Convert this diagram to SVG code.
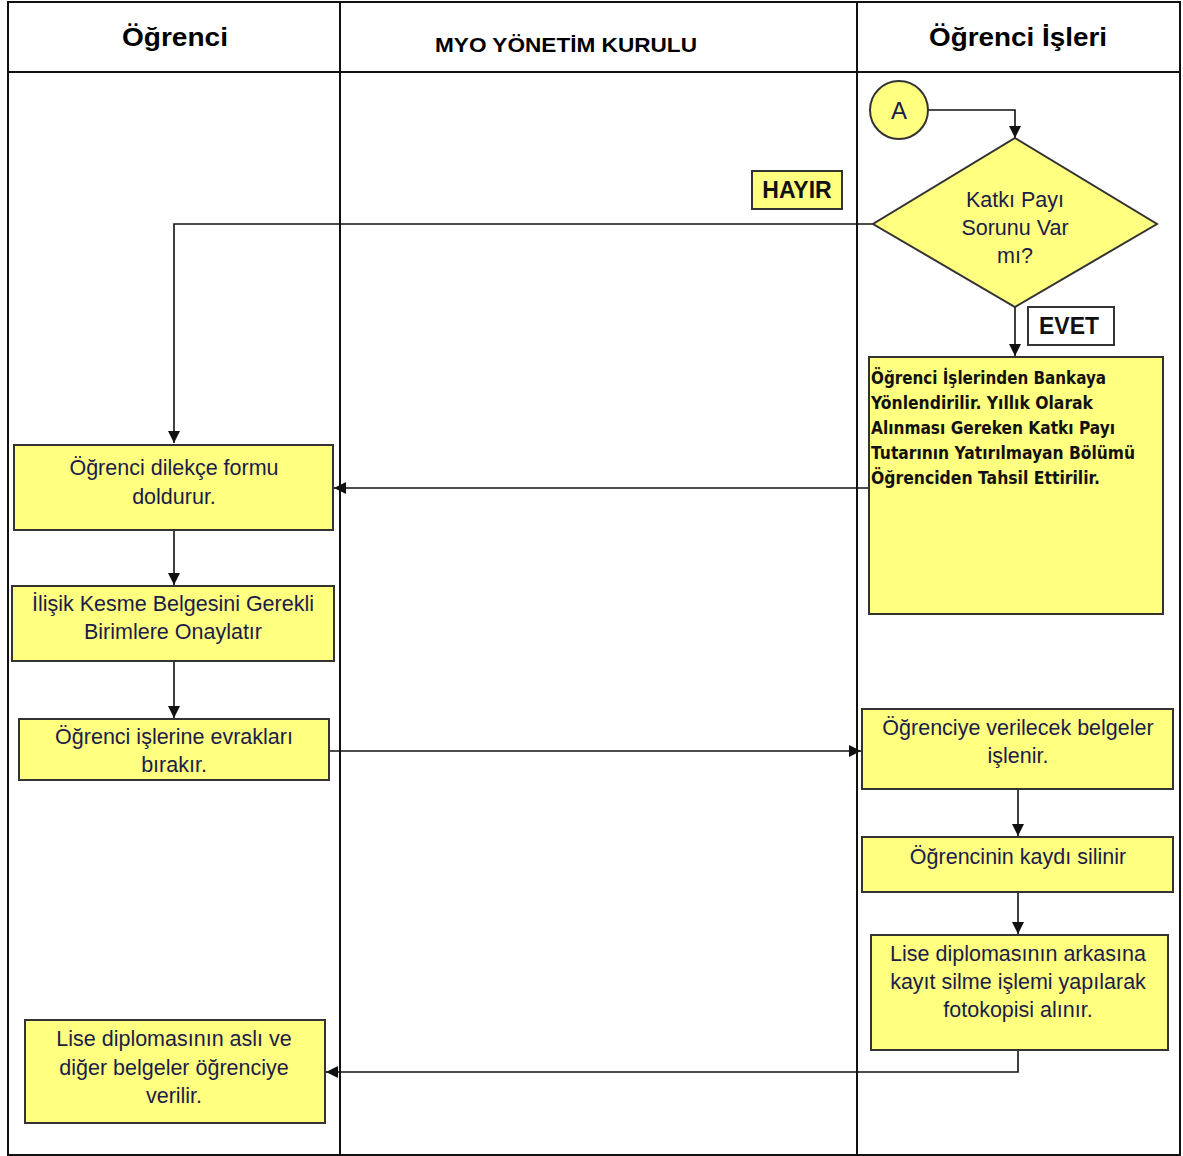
<svg xmlns="http://www.w3.org/2000/svg" width="1183" height="1156" viewBox="0 0 1183 1156">
<style>
.lane{fill:none;stroke:#111;stroke-width:2}
.box{fill:#FFFF80;stroke:#333;stroke-width:2}
.t{font-family:"Liberation Sans",Arial,sans-serif;font-size:21.5px;fill:#1c1c48;text-anchor:middle}
.h{font-family:"Liberation Sans",Arial,sans-serif;font-weight:bold;fill:#000;text-anchor:middle}
.lbl{font-family:"Liberation Sans",Arial,sans-serif;font-weight:bold;font-size:23px;fill:#111;text-anchor:middle}
.bt{font-family:"DejaVu Sans","Liberation Sans",sans-serif;font-weight:bold;font-size:17px;fill:#111}
.c{fill:none;stroke:#111;stroke-width:1.6}
</style>
<defs>
<marker id="ar" viewBox="0 0 10 10" refX="10" refY="5" markerWidth="12" markerHeight="12" markerUnits="userSpaceOnUse" orient="auto"><path d="M0,0 L10,5 L0,10 z" fill="#111"/></marker>
</defs>
<rect width="1183" height="1156" fill="#fff"/>
<g id="lanes">
<rect class="lane" x="8" y="2" width="1172" height="1153"/>
<line class="lane" x1="8" y1="72" x2="1180" y2="72" stroke-width="3"/>
<line class="lane" x1="340" y1="2" x2="340" y2="1155"/>
<line class="lane" x1="857" y1="2" x2="857" y2="1155"/>
<text class="h" x="175" y="46" font-size="26" textLength="106" lengthAdjust="spacingAndGlyphs">Öğrenci</text>
<text class="h" x="566" y="52" font-size="20" textLength="262" lengthAdjust="spacingAndGlyphs">MYO YÖNETİM KURULU</text>
<text class="h" x="1018" y="46" font-size="26" textLength="178" lengthAdjust="spacingAndGlyphs">Öğrenci İşleri</text>
</g>
<g id="connectors">
<polyline class="c" points="928,110 1015,110 1015,138" marker-end="url(#ar)"/>
<polyline class="c" points="873,224 174,224 174,443" marker-end="url(#ar)"/>
<line class="c" x1="1015" y1="307" x2="1015" y2="356" marker-end="url(#ar)"/>
<line class="c" x1="869" y1="488" x2="334" y2="488" marker-end="url(#ar)"/>
<line class="c" x1="174" y1="530" x2="174" y2="585" marker-end="url(#ar)"/>
<line class="c" x1="174" y1="661" x2="174" y2="718" marker-end="url(#ar)"/>
<line class="c" x1="329" y1="751" x2="861" y2="751" marker-end="url(#ar)"/>
<line class="c" x1="1018" y1="789" x2="1018" y2="836" marker-end="url(#ar)"/>
<line class="c" x1="1018" y1="892" x2="1018" y2="934" marker-end="url(#ar)"/>
<polyline class="c" points="1018,1050 1018,1072 326,1072" marker-end="url(#ar)"/>
</g>
<g id="start-A">
<circle cx="899" cy="110" r="29" fill="#FFFF80" stroke="#333" stroke-width="2"/>
<text x="899" y="119" font-family="Liberation Sans,Arial,sans-serif" font-size="24" fill="#1c1c48" text-anchor="middle">A</text>
</g>
<g id="decision">
<polygon class="box" points="1015,138 1157,224 1015,307 873,224"/>
<text class="t" x="1015" y="207">Katkı Payı</text>
<text class="t" x="1015" y="235">Sorunu Var</text>
<text class="t" x="1015" y="263">mı?</text>
</g>
<g id="label-hayir">
<rect x="752" y="171" width="90" height="38" fill="#FFFF80" stroke="#333" stroke-width="2"/>
<text class="lbl" x="797" y="198">HAYIR</text>
</g>
<g id="label-evet">
<rect x="1028" y="307" width="86" height="38" fill="#fff" stroke="#333" stroke-width="2"/>
<text class="lbl" x="1069" y="334">EVET</text>
</g>
<g id="bank">
<rect class="box" x="869" y="357" width="294" height="257"/>
<text class="bt" x="871" y="384" textLength="235" lengthAdjust="spacingAndGlyphs">Öğrenci İşlerinden Bankaya</text>
<text class="bt" x="871" y="409" textLength="222" lengthAdjust="spacingAndGlyphs">Yönlendirilir. Yıllık Olarak</text>
<text class="bt" x="871" y="434" textLength="244" lengthAdjust="spacingAndGlyphs">Alınması Gereken Katkı Payı</text>
<text class="bt" x="871" y="459" textLength="264" lengthAdjust="spacingAndGlyphs">Tutarının Yatırılmayan Bölümü</text>
<text class="bt" x="871" y="484" textLength="229" lengthAdjust="spacingAndGlyphs">Öğrenciden Tahsil Ettirilir.</text>
</g>
<g id="dilekce">
<rect class="box" x="14" y="445" width="319" height="85"/>
<text class="t" x="174" y="475">Öğrenci dilekçe formu</text>
<text class="t" x="174" y="504">doldurur.</text>
</g>
<g id="ilisik">
<rect class="box" x="12" y="586" width="322" height="75"/>
<text class="t" x="173" y="611">İlişik Kesme Belgesini Gerekli</text>
<text class="t" x="173" y="639">Birimlere Onaylatır</text>
</g>
<g id="evrak">
<rect class="box" x="19" y="719" width="310" height="61"/>
<text class="t" x="174" y="744">Öğrenci işlerine evrakları</text>
<text class="t" x="174" y="772">bırakır.</text>
</g>
<g id="belgeler">
<rect class="box" x="862" y="709" width="311" height="80"/>
<text class="t" x="1018" y="735">Öğrenciye verilecek belgeler</text>
<text class="t" x="1018" y="763">işlenir.</text>
</g>
<g id="kayit">
<rect class="box" x="862" y="837" width="311" height="55"/>
<text class="t" x="1018" y="864">Öğrencinin kaydı silinir</text>
</g>
<g id="diploma">
<rect class="box" x="871" y="935" width="297" height="115"/>
<text class="t" x="1018" y="961">Lise diplomasının arkasına</text>
<text class="t" x="1018" y="989">kayıt silme işlemi yapılarak</text>
<text class="t" x="1018" y="1017">fotokopisi alınır.</text>
</g>
<g id="teslim">
<rect class="box" x="25" y="1020" width="300" height="103"/>
<text class="t" x="174" y="1046">Lise diplomasının aslı ve</text>
<text class="t" x="174" y="1075">diğer belgeler öğrenciye</text>
<text class="t" x="174" y="1103">verilir.</text>
</g>
</svg>
